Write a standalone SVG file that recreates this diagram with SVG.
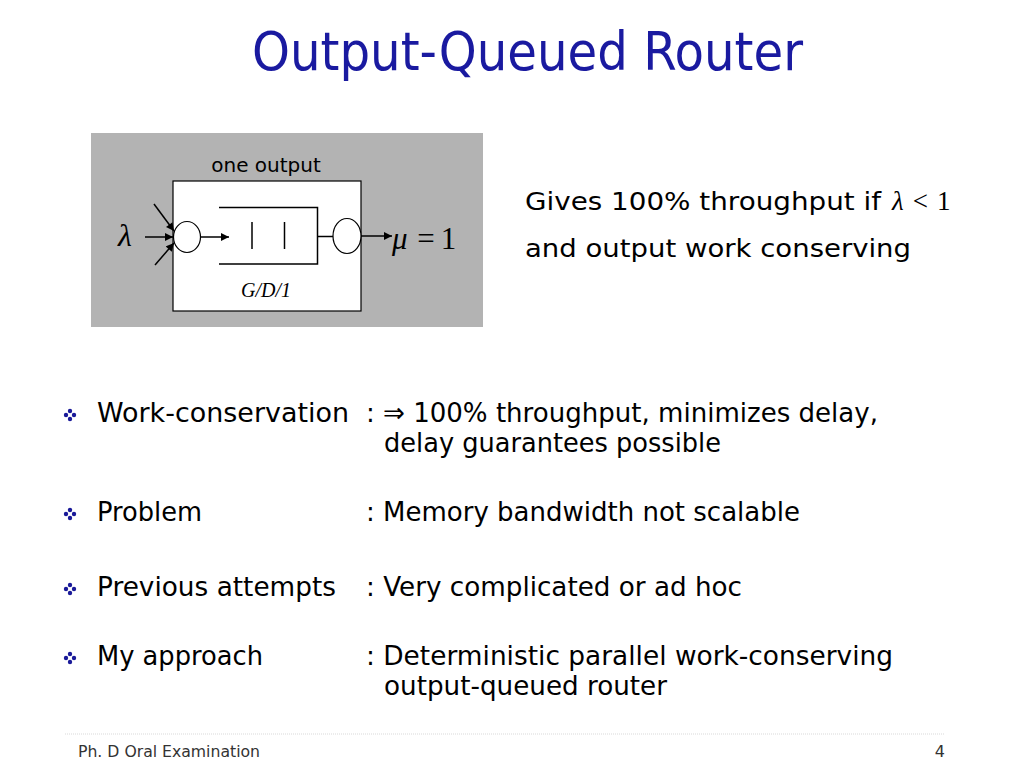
<svg xmlns="http://www.w3.org/2000/svg" width="1024" height="768" viewBox="0 0 1024 768">
<style>
.t{font-family:"DejaVu Sans","Noto Sans",sans-serif;fill:#000}
.body{font-size:27px}
.serif{font-family:"Liberation Serif","Times New Roman",serif;fill:#000}
.ln{stroke:#000;stroke-width:1.5;fill:none}
</style>
<defs>
<marker id="ah" viewBox="0 0 10 10" refX="10" refY="5" markerWidth="9" markerHeight="8" markerUnits="userSpaceOnUse" orient="auto">
<path d="M0,0 L10,5 L0,10 z" fill="#000"/>
</marker>
<g id="bul">
<circle cx="0" cy="-4" r="2.2" fill="#1a1a99"/>
<circle cx="0" cy="4" r="2.2" fill="#1a1a99"/>
<circle cx="-4" cy="0" r="2.2" fill="#1a1a99"/>
<circle cx="4" cy="0" r="2.2" fill="#1a1a99"/>
</g>
</defs>
<rect width="1024" height="768" fill="#fff"/>

<text id="title" class="t" x="252" y="70" font-size="54" style="fill:#1a1aa0" textLength="551" lengthAdjust="spacingAndGlyphs">Output-Queued Router</text>

<g id="figure">
<rect x="91" y="133" width="392" height="194" fill="#b3b3b3"/>
<rect x="173" y="181" width="188" height="130" fill="#fff" stroke="#000" stroke-width="1.2"/>
<text class="t" x="266" y="172" font-size="20" text-anchor="middle">one output</text>
<g id="queue">
<path class="ln" d="M219,207.5 H317.5 V264 H219"/>
<line class="ln" x1="252" y1="222" x2="252" y2="249"/>
<line class="ln" x1="284.5" y1="222" x2="284.5" y2="249"/>
</g>
<ellipse id="in-node" cx="187" cy="237" rx="13.5" ry="15.5" fill="#fff" stroke="#000" stroke-width="1.2"/>
<ellipse id="out-node" cx="347" cy="236" rx="14" ry="17.5" fill="#fff" stroke="#000" stroke-width="1.2"/>
<text class="serif" x="118" y="246" font-size="32" font-style="italic">λ</text>
<text class="serif" x="392" y="249" font-size="31"><tspan font-style="italic">μ</tspan> <tspan dx="2">=</tspan><tspan dx="6">1</tspan></text>
<text class="serif" x="266" y="297" font-size="20" font-style="italic" text-anchor="middle">G/D/1</text>
</g>

<g id="connectors">
<line class="ln" x1="145" y1="237" x2="173" y2="237" marker-end="url(#ah)"/>
<line class="ln" x1="154" y1="204" x2="174" y2="231" marker-end="url(#ah)"/>
<line class="ln" x1="155" y1="265" x2="174" y2="243" marker-end="url(#ah)"/>
<line class="ln" x1="200.5" y1="237" x2="229" y2="237" stroke-width="2" marker-end="url(#ah)"/>
<line class="ln" x1="317.5" y1="236.5" x2="333" y2="236.5" stroke-width="2"/>
<line class="ln" x1="361" y1="236" x2="392" y2="236" stroke-width="2" marker-end="url(#ah)"/>
</g>

<g id="note">
<text class="t" x="525" y="210" font-size="24" textLength="356" lengthAdjust="spacingAndGlyphs">Gives 100% throughput if</text>
<text class="serif" x="892" y="210" font-size="27"><tspan font-style="italic">λ</tspan><tspan dx="9">&lt;</tspan><tspan dx="9">1</tspan></text>
<text class="t" x="525" y="257" font-size="24" textLength="386" lengthAdjust="spacingAndGlyphs">and output work conserving</text>
</g>

<g id="bullets">
<use href="#bul" x="70" y="415"/>
<text class="t body" x="97" y="422" textLength="252" lengthAdjust="spacingAndGlyphs">Work-conservation</text>
<text class="t body" x="366" y="422" textLength="512" lengthAdjust="spacingAndGlyphs">: ⇒ 100% throughput, minimizes delay,</text>
<text class="t body" x="384" y="452" textLength="337" lengthAdjust="spacingAndGlyphs">delay guarantees possible</text>

<use href="#bul" x="70" y="514"/>
<text class="t body" x="97" y="521" textLength="105" lengthAdjust="spacingAndGlyphs">Problem</text>
<text class="t body" x="366" y="521" textLength="434" lengthAdjust="spacingAndGlyphs">: Memory bandwidth not scalable</text>

<use href="#bul" x="70" y="589"/>
<text class="t body" x="97" y="596" textLength="239" lengthAdjust="spacingAndGlyphs">Previous attempts</text>
<text class="t body" x="366" y="596" textLength="376" lengthAdjust="spacingAndGlyphs">: Very complicated or ad hoc</text>

<use href="#bul" x="70" y="658"/>
<text class="t body" x="97" y="665" textLength="166" lengthAdjust="spacingAndGlyphs">My approach</text>
<text class="t body" x="366" y="665" textLength="527" lengthAdjust="spacingAndGlyphs">: Deterministic parallel work-conserving</text>
<text class="t body" x="384" y="695" textLength="283" lengthAdjust="spacingAndGlyphs">output-queued router</text>
</g>

<g id="footer">
<line x1="65" y1="734" x2="945" y2="734" stroke="#d9d9d9" stroke-width="1" stroke-dasharray="1,1"/>
<text class="t" x="78" y="757" font-size="16" style="fill:#333" textLength="182" lengthAdjust="spacingAndGlyphs">Ph. D Oral Examination</text>
<text class="t" x="945" y="757" font-size="16" style="fill:#333" text-anchor="end">4</text>
</g>
</svg>
